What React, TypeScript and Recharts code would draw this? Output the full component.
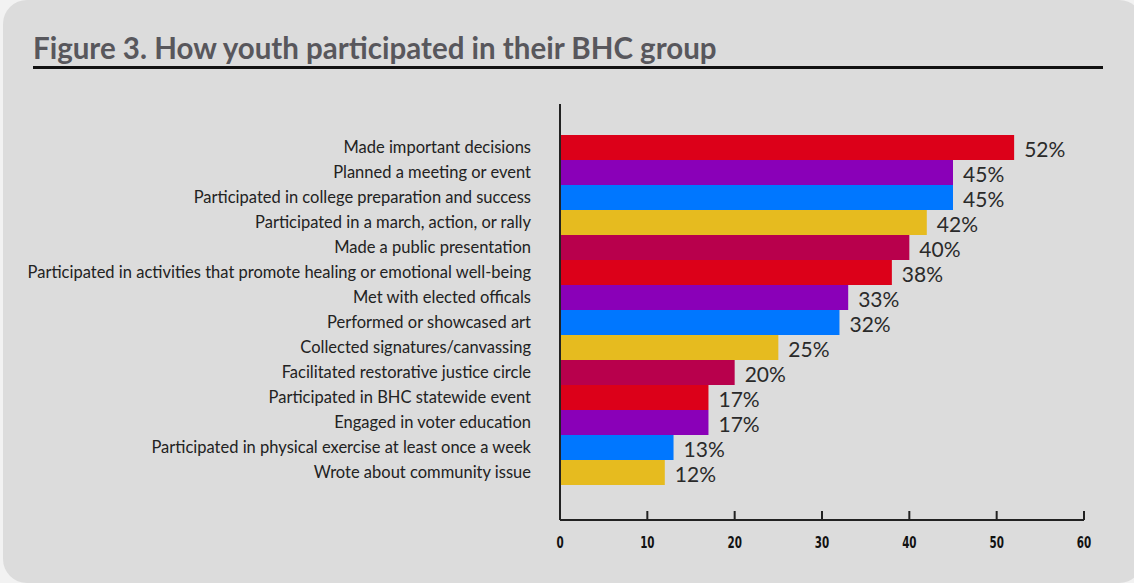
import { BarChart, Bar, XAxis, YAxis, Cell, LabelList } from "recharts";

const categories = [
  "Made important decisions",
  "Planned a meeting or event",
  "Participated in college preparation and success",
  "Participated in a march, action, or rally",
  "Made a public presentation",
  "Participated in activities that promote healing or emotional well-being",
  "Met with elected officals",
  "Performed or showcased art",
  "Collected signatures/canvassing",
  "Facilitated restorative justice circle",
  "Participated in BHC statewide event",
  "Engaged in voter education",
  "Participated in physical exercise at least once a week",
  "Wrote about community issue",
];

const percents = [52, 45, 45, 42, 40, 38, 33, 32, 25, 20, 17, 17, 13, 12];

const xTicks = [0, 10, 20, 30, 40, 50, 60];

const PALETTE = ["#dc0019", "#8a00b8", "#0077ff", "#e6bb1f", "#b8004c"];

const data = categories.map((name, i) => ({ name, value: percents[i] }));

// ticks point up into the plot, labels sit well below the axis
const XTick = (props: any) => {
  const { x, y, payload } = props;
  return (
    <g>
      <line x1={x} x2={x} y1={y - 9} y2={y} stroke="#222" strokeWidth={2} />
      <text
        transform={`translate(${x}, ${y + 28}) scale(0.72, 1)`}
        textAnchor="middle"
        fontFamily="'DejaVu Sans Condensed', 'DejaVu Sans'"
        fontWeight="bold"
        fontSize={16}
        fill="#111"
      >
        {payload.value}
      </text>
    </g>
  );
};

const ValueLabel = (props: any) => {
  const { x, y, width, height, value } = props;
  return (
    <text
      x={x + width + 10}
      y={y + height / 2 + 9}
      fontFamily="Lato, 'Liberation Sans'"
      fontSize={21}
      fill="#2a2a2a"
    >
      {value}%
    </text>
  );
};

export default function App() {
  return (
    <div
      style={{
        position: "absolute",
        left: 0,
        top: 0,
        width: 1134,
        height: 583,
        background: "#f2f2f2",
        overflow: "hidden",
      }}
    >
      <div
        style={{
          position: "absolute",
          left: 3,
          top: 0,
          width: 1140,
          height: 583,
          background: "#dcdcdc",
          borderRadius: 24,
        }}
      />
      <div
        style={{
          position: "absolute",
          left: 33,
          top: 30,
          fontFamily: "Lato, 'Liberation Sans'",
          fontWeight: "bold",
          fontSize: 29.5,
          color: "#58575c",
          whiteSpace: "nowrap",
        }}
      >
        Figure 3. How youth participated in their BHC group
      </div>
      <div
        style={{
          position: "absolute",
          left: 33,
          top: 66,
          width: 1070,
          height: 3,
          background: "#111",
        }}
      />
      <div style={{ position: "absolute", left: 0, top: 0 }}>
        <BarChart
          width={1134}
          height={583}
          data={data}
          layout="vertical"
          barCategoryGap={0}
          margin={{ top: 104, right: 50, bottom: 23, left: 0 }}
        >
          <XAxis
            type="number"
            domain={[0, 60]}
            ticks={xTicks}
            height={40}
            axisLine={{ stroke: "#222", strokeWidth: 2 }}
            tickLine={false}
            tickSize={0}
            tickMargin={0}
            tick={<XTick />}
          />
          <YAxis
            type="category"
            dataKey="name"
            width={560}
            padding={{ top: 31, bottom: 35 }}
            axisLine={{ stroke: "#222", strokeWidth: 2 }}
            tickLine={false}
            tickSize={0}
            tickMargin={29}
            interval={0}
            tick={{
              fontFamily: "Lato, 'Liberation Sans'",
              fontSize: 16.5,
              fill: "#222",
            }}
          />
          <Bar dataKey="value" isAnimationActive={false}>
            {data.map((d, i) => (
              <Cell key={d.name} fill={PALETTE[i % PALETTE.length]} />
            ))}
            <LabelList dataKey="value" content={<ValueLabel />} />
          </Bar>
        </BarChart>
      </div>
    </div>
  );
}
